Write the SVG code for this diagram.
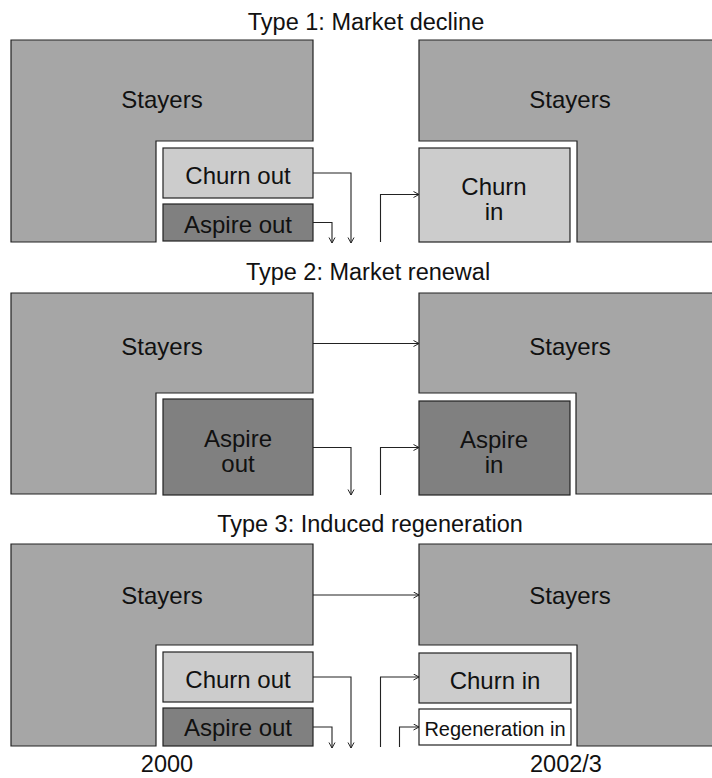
<svg xmlns="http://www.w3.org/2000/svg" width="712" height="778" viewBox="0 0 712 778">
<defs>
<marker id="ah" markerWidth="8" markerHeight="8" refX="6" refY="3.5" orient="auto" markerUnits="userSpaceOnUse">
<path d="M0.5,0.5 L6,3.5 L0.5,6.5" fill="none" stroke="#222" stroke-width="1"/>
</marker>
<style>
text{font-family:"Liberation Sans",Arial,sans-serif;fill:#111;text-anchor:middle}
.t{font-size:23.5px}
.b{font-size:24px}
.s{font-size:20px}
.stay{fill:#a6a6a6;stroke:#222;stroke-width:1.2}
.churn{fill:#cccccc;stroke:#222;stroke-width:1.2}
.asp{fill:#808080;stroke:#222;stroke-width:1.2}
.regen{fill:#ffffff;stroke:#222;stroke-width:1.2}
.c{fill:none;stroke:#222;stroke-width:1.1;marker-end:url(#ah)}
</style>
</defs>
<rect width="712" height="778" fill="#ffffff"/>

<text class="t" x="366" y="30">Type 1: Market decline</text>
<text class="t" x="368" y="280">Type 2: Market renewal</text>
<text class="t" x="370" y="532">Type 3: Induced regeneration</text>

<g id="p1-stayers-2000">
<polygon class="stay" points="11,40 313,40 313,141 156,141 156,242 11,242"/>
<text class="b" x="162" y="108">Stayers</text>
</g>
<g id="p1-churn-out">
<rect class="churn" x="163" y="148" width="150" height="50"/>
<text class="b" x="238" y="184">Churn out</text>
</g>
<g id="p1-aspire-out">
<rect class="asp" x="163" y="204" width="150" height="37"/>
<text class="b" x="238" y="233">Aspire out</text>
</g>
<g id="p1-stayers-2002">
<polygon class="stay" points="419,40 714,40 714,242 577,242 577,141 419,141"/>
<text class="b" x="570" y="108">Stayers</text>
</g>
<g id="p1-churn-in">
<rect class="churn" x="419" y="148" width="151" height="94"/>
<text class="b" x="494" y="195">Churn</text>
<text class="b" x="494" y="220">in</text>
</g>

<g id="p2-stayers-2000">
<polygon class="stay" points="11,293 313,293 313,393 156,393 156,494 11,494"/>
<text class="b" x="162" y="355">Stayers</text>
</g>
<g id="p2-aspire-out">
<rect class="asp" x="163" y="399" width="150" height="96"/>
<text class="b" x="238" y="447">Aspire</text>
<text class="b" x="238" y="472">out</text>
</g>
<g id="p2-stayers-2002">
<polygon class="stay" points="419,293 714,293 714,494 576,494 576,393 419,393"/>
<text class="b" x="570" y="355">Stayers</text>
</g>
<g id="p2-aspire-in">
<rect class="asp" x="419" y="401" width="151" height="94"/>
<text class="b" x="494" y="448">Aspire</text>
<text class="b" x="494" y="473">in</text>
</g>

<g id="p3-stayers-2000">
<polygon class="stay" points="11,544 313,544 313,645 156,645 156,746 11,746"/>
<text class="b" x="162" y="604">Stayers</text>
</g>
<g id="p3-churn-out">
<rect class="churn" x="163" y="652" width="150" height="50"/>
<text class="b" x="238" y="688">Churn out</text>
</g>
<g id="p3-aspire-out">
<rect class="asp" x="163" y="708" width="150" height="38"/>
<text class="b" x="238" y="736">Aspire out</text>
</g>
<g id="p3-stayers-2002">
<polygon class="stay" points="419,544 714,544 714,746 577,746 577,645 419,645"/>
<text class="b" x="570" y="604">Stayers</text>
</g>
<g id="p3-churn-in">
<rect class="churn" x="419" y="653" width="152" height="50"/>
<text class="b" x="495" y="689">Churn in</text>
</g>
<g id="p3-regen-in">
<rect class="regen" x="419" y="709" width="152" height="36"/>
<text class="s" x="495" y="736">Regeneration in</text>
</g>

<g id="connectors">
<path class="c" d="M313,173 H351 V243"/>
<path class="c" d="M313,222.5 H332 V243"/>
<path class="c" d="M380.5,242 V194.5 H419"/>
<path class="c" d="M313,343.5 H419"/>
<path class="c" d="M313,447.5 H351 V495"/>
<path class="c" d="M380.5,495 V447.5 H419"/>
<path class="c" d="M313,595 H419"/>
<path class="c" d="M313,677 H351 V748"/>
<path class="c" d="M313,727 H332 V748"/>
<path class="c" d="M380.5,747 V677 H419"/>
<path class="c" d="M399.5,747 V727 H419"/>
</g>

<g id="labels">
<text class="t" x="167" y="772">2000</text>
<text class="t" x="566" y="772">2002/3</text>
</g>
</svg>
